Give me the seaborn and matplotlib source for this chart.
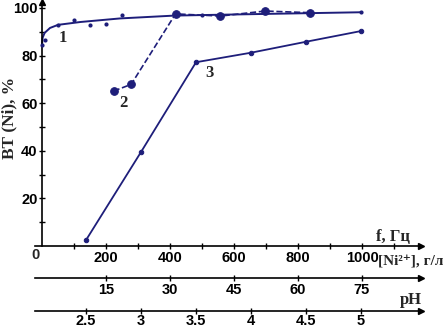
import numpy as np
import pandas as pd
import matplotlib
matplotlib.use("Agg")
import matplotlib.pyplot as plt
import seaborn as sns

# Curve 1: BT vs frequency f (Hz) - experimental points and fitted curve
f_pts = [0, 9, 50, 99, 150, 200, 249, 499, 995]
bt1_pts = [84.3, 86.4, 92.7, 95.1, 92.7, 93.1, 96.9, 97.2, 98.3]
f_fit = [0, 2, 8, 25, 50, 120, 244, 415, 700, 1000]
bt1_fit = [84.5, 87.5, 89.5, 91.6, 92.9, 94.1, 95.6, 96.8, 97.5, 98.2]

# Curve 2: BT vs [Ni2+] (g/l)
ni_pts = [16.8, 20.9, 31.3, 41.8, 52.3, 62.9]
bt2_pts = [65.1, 67.9, 97.5, 96.6, 98.7, 98.0]

# Curve 3: BT vs pH
ph_pts = [2.5, 3.0, 3.5, 4.0, 4.5, 5.0]
bt3_pts = [2.5, 39.5, 77.2, 81.2, 85.8, 90.3]

f_ticks = [200, 400, 600, 800, 1000]
ni_ticks = [15, 30, 45, 60, 75]
ph_ticks = [2.5, 3, 3.5, 4, 4.5, 5]
ph_labels = ["2.5", "3", "3.5", "4", "4.5", "5"]
y_ticks = [20, 40, 60, 80, 100]

sns.set_style("ticks")
plt.rcParams['font.family'] = ['Liberation Sans', 'DejaVu Sans']

W, H = 445, 328
fig = plt.figure(figsize=(W / 100, H / 100), dpi=100)
L, R, B, T = 35, 421, 246, 2
ax = fig.add_axes([L / W, 1 - B / H, (R - L) / W, (B - T) / H])
ax.patch.set_alpha(0)
ax.set_xlim(-21.9, 1184)
ax.set_ylim(0, 102.5)

navy = "#1e1e7a"
tick_font = dict(fontsize=10.5, fontweight='bold')
serif = ['Liberation Serif', 'DejaVu Serif']
tick_kw = dict(direction='inout', length=4.5, width=1, colors='black')

for s in ['top', 'right']:
    ax.spines[s].set_visible(False)
ax.spines['left'].set_position(('data', 0))
ax.spines['bottom'].set_position(('data', 0))
for s in ['left', 'bottom']:
    ax.spines[s].set_linewidth(1.2)
    ax.spines[s].set_color('black')

ax.set_xticks(f_ticks)
ax.set_xticklabels([str(v) for v in f_ticks], **tick_font)
ax.set_xticks(list(range(100, 1200, 200)), minor=True)
ax.set_yticks(y_ticks)
ax.set_yticklabels([str(v) for v in y_ticks], **tick_font)
ax.set_yticks(list(range(10, 100, 20)), minor=True)
ax.tick_params(axis='both', which='both', pad=1, **tick_kw)
ax.tick_params(axis='x', pad=1)

# Ni axis
ax2 = ax.twiny()
ax2.patch.set_alpha(0)
ax2.set_xlim(-1.64, 88.83)
ax2.set_ylim(0, 102.5)
for s in ['top', 'right', 'left']:
    ax2.spines[s].set_visible(False)
ax2.xaxis.set_ticks_position('bottom')
ax2.xaxis.set_label_position('bottom')
ax2.spines['bottom'].set_position(('axes', -32 / 244))
ax2.spines['bottom'].set_linewidth(1.2)
ax2.spines['bottom'].set_color('black')
ax2.set_xticks(ni_ticks)
ax2.set_xticklabels([str(v) for v in ni_ticks], **tick_font)
ax2.tick_params(axis='x', pad=1, **tick_kw)

# pH axis
ax3 = ax.twiny()
ax3.patch.set_alpha(0)
ax3.set_xlim(2.036, 5.545)
ax3.set_ylim(0, 102.5)
for s in ['top', 'right', 'left']:
    ax3.spines[s].set_visible(False)
ax3.xaxis.set_ticks_position('bottom')
ax3.xaxis.set_label_position('bottom')
ax3.spines['bottom'].set_position(('axes', -65 / 244))
ax3.spines['bottom'].set_linewidth(1.2)
ax3.spines['bottom'].set_color('black')
ax3.set_xticks(ph_ticks)
ax3.set_xticklabels(ph_labels, **tick_font)
ax3.tick_params(axis='x', pad=0, **tick_kw)

# Curves
sns.lineplot(x=f_fit, y=bt1_fit, ax=ax, color=navy, linewidth=1.4, sort=False)
sns.scatterplot(x=f_pts, y=bt1_pts, ax=ax, color=navy, s=9, edgecolor=navy, linewidth=0, zorder=5)
sns.lineplot(x=ni_pts, y=bt2_pts, ax=ax2, color=navy, linewidth=1.2, linestyle='--',
             marker='o', markersize=5.5, markeredgecolor=navy, sort=False)
sns.lineplot(x=ph_pts, y=bt3_pts, ax=ax3, color=navy, linewidth=1.3,
             marker='o', markersize=3.2, markeredgecolor=navy, sort=False)
for a in (ax, ax2, ax3):
    a.set_xlabel('')
    a.set_ylabel('')

# Curve numbers
ax.text(66, 87.4, "1", family=serif, fontsize=12, fontweight='bold', ha='center', va='center')
ax2.text(19, 60, "2", family=serif, fontsize=12, fontweight='bold', ha='center', va='center')
ax3.text(3.62, 72.8, "3", family=serif, fontsize=12, fontweight='bold', ha='center', va='center')

# Arrows at axis ends
ax.plot([1], [0], marker='>', color='black', markersize=4, transform=ax.transAxes, clip_on=False)
ax.plot([1], [-32 / 244], marker='>', color='black', markersize=4, transform=ax.transAxes, clip_on=False)
ax.plot([1], [-65 / 244], marker='>', color='black', markersize=4, transform=ax.transAxes, clip_on=False)
ax.plot([0], [1], marker='^', color='black', markersize=4, transform=ax.get_xaxis_transform(), clip_on=False)

# Origin label
fig.text(35 / W, 1 - 255 / H, "0", ha='center', va='center', **tick_font)

# Axis titles
fig.text(9 / W, 1 - 118 / H, "ВТ (Ni), %", rotation=90, ha='center', va='center',
         family=serif, fontsize=12.5, fontweight='bold')
fig.text(393 / W, 1 - 237 / H, "f, Гц", ha='center', va='center',
         family=serif, fontsize=12, fontweight='bold')
fig.text(378 / W, 1 - 262 / H, "[Ni²⁺], г/л", ha='left', va='center',
         family=serif, fontsize=11, fontweight='bold')
fig.text(411 / W, 1 - 300 / H, "pH", ha='center', va='center',
         family=serif, fontsize=12, fontweight='bold')

fig.savefig("out.png", dpi=100)
